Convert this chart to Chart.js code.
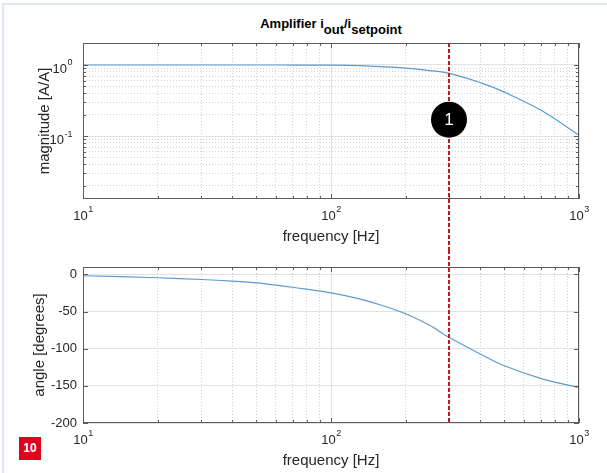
<!DOCTYPE html>
<html>
<head>
<meta charset="utf-8">
<script src="https://cdn.jsdelivr.net/npm/chart.js@4.4.1/dist/chart.umd.min.js"></script>
<style>
  html, body { margin: 0; padding: 0; background: #fff; }
  #page { position: relative; width: 607px; height: 473px; overflow: hidden; font-family: 'Liberation Sans', Arial, sans-serif; }
  #frame { position: absolute; left: 2px; top: 3px; width: 640px; height: 520px; border-top: 2px solid #dfe9f5; border-left: 2px solid #dfe9f5; }
  #title { position: absolute; left: 131px; width: 400px; top: 17px; text-align: center; font-weight: bold; font-size: 13px; line-height: 14px; color: #000; white-space: nowrap; }
  #title .sub { position: relative; top: 6px; }
  canvas { position: absolute; left: 0; }
  #magCanvas { top: 0; }
  #angCanvas { top: 250px; }
  #badge { position: absolute; left: 19px; top: 437px; width: 22px; height: 23px; background: #e2001a; color: #fff; font-weight: bold; font-size: 12px; line-height: 23px; text-align: center; }
</style>
</head>
<body>
<div id="page">
  <div id="frame"></div>
  <div id="title">Amplifier i<span class="sub">out</span>/i<span class="sub">setpoint</span></div>
  <canvas id="magCanvas" width="607" height="250"></canvas>
  <canvas id="angCanvas" width="607" height="223"></canvas>
  <div id="badge">10</div>
</div>
<script>
// frequency response
const freq      = [10, 20, 30, 40, 50, 60, 70, 100, 130, 160, 200, 250, 300, 400, 500, 700, 1000];
const magnitude = [1.0, 1.0, 1.0, 1.0, 1.0, 1.0, 0.999, 0.995, 0.98, 0.95, 0.905, 0.835, 0.764, 0.565, 0.415, 0.232, 0.103];
const angle     = [-1.8, -4.5, -6.8, -9, -11.3, -14.5, -17.3, -24.8, -32.8, -41.5, -53, -68.5, -85, -107, -123, -140, -152.3];

const xMajorTicks = [10, 100, 1000];
const xMinorTicks = [20, 30, 40, 50, 60, 70, 80, 90, 200, 300, 400, 500, 600, 700, 800, 900];
const magMajorTicks = [0.1, 1];
const magMinorTicks = [0.02, 0.03, 0.04, 0.05, 0.06, 0.07, 0.08, 0.09, 0.2, 0.3, 0.4, 0.5, 0.6, 0.7, 0.8, 0.9];
const angleTicks = [-200, -150, -100, -50, 0];

const xMin = 10, xMax = 1000;
const magMin = 0.013, magMax = 2.04;
const angleMin = -200, angleMax = 10;

const markerFreq = 300;    // red dashed line
const badgeLevel = 0.17;   // where the "1" bubble sits on the magnitude axis

const FONT = "'Liberation Sans', Arial, sans-serif";
const TEXT = '#262626';
const BOX = '#5c5c5c';
const MAJOR_GRID = '#e2e2e2';
const MINOR_GRID = '#d2d2d2';
const LINE = '#5b9bd0';
const MARKER = '#c8161d';

function fixedTicks(values) {
  return scale => { scale.ticks = values.map(v => ({ value: v })); };
}

function pts(ys) {
  return freq.map((f, i) => ({ x: f, y: ys[i] }));
}

function minorScale(type, position, min, max, values) {
  return {
    type, position, min, max,
    afterBuildTicks: fixedTicks(values),
    afterFit: s => { if (s.isHorizontal()) s.height = 0; else s.width = 0; },
    ticks: { display: false },
    grid: { color: MINOR_GRID, drawTicks: false, borderDash: [1, 2] },
    border: { display: false, dash: [1, 2] }
  };
}

function freqAxis(axisHeight, titlePad) {
  return {
    type: 'logarithmic', position: 'bottom', min: xMin, max: xMax,
    afterBuildTicks: fixedTicks(xMajorTicks),
    afterFit: s => { s.height = axisHeight; },
    ticks: { display: false },
    grid: { color: MAJOR_GRID, drawTicks: false },
    border: { display: false },
    title: { display: true, text: 'frequency [Hz]', color: TEXT, font: { family: FONT, size: 15 }, padding: { top: 0, bottom: titlePad } }
  };
}

// "10" with a raised exponent
function drawPower(ctx, x, y, exp, align) {
  ctx.save();
  ctx.fillStyle = TEXT;
  ctx.textBaseline = 'middle';
  ctx.textAlign = 'left';
  ctx.font = '13px ' + FONT;
  const wBase = ctx.measureText('10').width;
  ctx.font = '9px ' + FONT;
  const wExp = ctx.measureText(exp).width;
  const left = align === 'center' ? x - (wBase + wExp) / 2 : x - wBase - wExp;
  ctx.font = '13px ' + FONT;
  ctx.fillText('10', left, y);
  ctx.font = '9px ' + FONT;
  ctx.fillText(exp, left + wBase + 0.5, y - 6);
  ctx.restore();
}

function expOf(v) {
  return String(Math.round(Math.log10(v)));
}

// box + inward tick marks, matlab style
function drawBox(chart) {
  const { ctx, chartArea: a, scales } = chart;
  ctx.save();
  ctx.strokeStyle = BOX;
  ctx.lineWidth = 1;
  ctx.beginPath();
  Object.values(scales).forEach(s => {
    const len = (s.id === 'x' || s.id === 'y') ? 5 : 3;
    s.ticks.forEach(t => {
      const p = Math.round(s.getPixelForValue(t.value)) + 0.5;
      if (s.isHorizontal()) {
        ctx.moveTo(p, a.bottom); ctx.lineTo(p, a.bottom - len);
        ctx.moveTo(p, a.top); ctx.lineTo(p, a.top + len);
      } else {
        ctx.moveTo(a.left, p); ctx.lineTo(a.left + len, p);
        ctx.moveTo(a.right, p); ctx.lineTo(a.right - len, p);
      }
    });
  });
  ctx.stroke();
  ctx.strokeRect(Math.round(a.left) + 0.5, Math.round(a.top) + 0.5, Math.round(a.right - a.left) - 1, Math.round(a.bottom - a.top) - 1);
  ctx.restore();
}

function drawXLabels(chart) {
  const { ctx, chartArea: a, scales } = chart;
  xMajorTicks.forEach(v => drawPower(ctx, scales.x.getPixelForValue(v), a.bottom + 17, expOf(v), 'center'));
}

function drawMarker(chart, y0, y1) {
  const { ctx, scales } = chart;
  const x = Math.round(scales.x.getPixelForValue(markerFreq));
  ctx.save();
  ctx.strokeStyle = MARKER;
  ctx.lineWidth = 2;
  ctx.setLineDash([4, 2]);
  ctx.beginPath();
  ctx.moveTo(x, y0);
  ctx.lineTo(x, y1);
  ctx.stroke();
  ctx.restore();
}

const magPlugin = {
  id: 'magDecor',
  afterDatasetsDraw(chart) {
    const { ctx, chartArea: a, scales } = chart;
    drawBox(chart);
    drawXLabels(chart);
    magMajorTicks.forEach(v => {
      const p = scales.y.getPixelForValue(v);
      drawPower(ctx, 72, p + 4, expOf(v), 'right');
    });
    drawMarker(chart, a.top, chart.height);
    // numbered bubble
    const bx = Math.round(scales.x.getPixelForValue(markerFreq));
    const by = scales.y.getPixelForValue(badgeLevel);
    ctx.save();
    ctx.fillStyle = '#000';
    ctx.beginPath();
    ctx.arc(bx, by, 18, 0, Math.PI * 2);
    ctx.fill();
    ctx.fillStyle = '#fff';
    ctx.font = '17px ' + FONT;
    ctx.textAlign = 'center';
    ctx.textBaseline = 'middle';
    ctx.fillText('1', bx, by + 1);
    ctx.restore();
  }
};

const angPlugin = {
  id: 'angDecor',
  afterDatasetsDraw(chart) {
    drawBox(chart);
    drawXLabels(chart);
    drawMarker(chart, 0, chart.chartArea.bottom);
  }
};

const common = {
  responsive: false,
  animation: false,
  events: [],
  plugins: { legend: { display: false }, tooltip: { enabled: false } }
};

const lineStyle = { borderColor: LINE, borderWidth: 1.2, pointRadius: 0, tension: 0.4 };

new Chart(document.getElementById('magCanvas'), {
  type: 'line',
  data: { datasets: [{ data: pts(magnitude), ...lineStyle }] },
  options: {
    ...common,
    layout: { padding: { left: 0, right: 28, top: 43, bottom: 0 } },
    scales: {
      x: freqAxis(51, 4),
      x2: minorScale('logarithmic', 'top', xMin, xMax, xMinorTicks),
      y: {
        type: 'logarithmic', position: 'left', min: magMin, max: magMax,
        afterBuildTicks: fixedTicks(magMajorTicks),
        afterFit: s => { s.width = 83; },
        ticks: { display: false },
        grid: { color: MAJOR_GRID, drawTicks: false },
        border: { display: false },
        title: { display: true, text: 'magnitude [A/A]', color: TEXT, font: { family: FONT, size: 15 }, padding: { top: 36, bottom: 0 } }
      },
      y2: minorScale('logarithmic', 'right', magMin, magMax, magMinorTicks)
    }
  },
  plugins: [magPlugin]
});

new Chart(document.getElementById('angCanvas'), {
  type: 'line',
  data: { datasets: [{ data: pts(angle), ...lineStyle }] },
  options: {
    ...common,
    layout: { padding: { left: 0, right: 28, top: 17, bottom: 0 } },
    scales: {
      x: freqAxis(50, 3),
      x2: minorScale('logarithmic', 'top', xMin, xMax, xMinorTicks),
      y: {
        type: 'linear', position: 'left', min: angleMin, max: angleMax,
        afterBuildTicks: fixedTicks(angleTicks),
        afterFit: s => { s.width = 83; },
        ticks: { color: TEXT, font: { family: FONT, size: 13 }, padding: 6, callback: v => String(v) },
        grid: { color: MAJOR_GRID, drawTicks: false },
        border: { display: false },
        title: { display: true, text: 'angle [degrees]', color: TEXT, font: { family: FONT, size: 15 }, padding: { top: 31, bottom: 0 } }
      }
    }
  },
  plugins: [angPlugin]
});
</script>
</body>
</html>
